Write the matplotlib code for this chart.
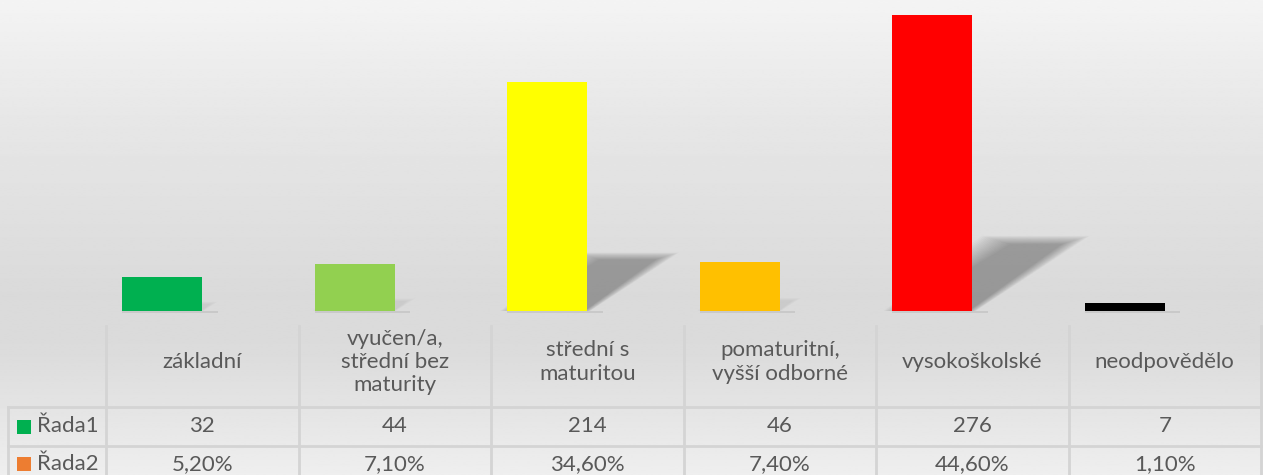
import numpy as np
import matplotlib.pyplot as plt
from matplotlib.patches import Polygon, Rectangle

plt.rcParams['font.family'] = ['Lato', 'DejaVu Sans']

categories = ["základní", "vyučen/a,\nstřední bez\nmaturity", "střední s\nmaturitou",
              "pomaturitní,\nvyšší odborné", "vysokoškolské", "neodpovědělo"]
rada1 = [32, 44, 214, 46, 276, 7]
rada2 = [0.052, 0.071, 0.346, 0.074, 0.446, 0.011]
rada1_labels = ["32", "44", "214", "46", "276", "7"]
rada2_labels = ["5,20%", "7,10%", "34,60%", "7,40%", "44,60%", "1,10%"]
bar_colors = ["#00B050", "#92D050", "#FFFF00", "#FFC000", "#FF0000", "#000000"]
series_names = ["Řada1", "Řada2"]
series_colors = ["#00B050", "#ED7D31"]

W, H = 1263, 475
fig = plt.figure(figsize=(W / 100, H / 100), dpi=100)

# background gradient (whole chart area)
bg = fig.add_axes([0, 0, 1, 1], zorder=0)
yy = np.linspace(0, 1, 300)
stops_y = [0.0, 0.25, 0.62, 0.74, 1.0]
stops_v = [0.955, 0.905, 0.855, 0.86, 0.935]
grad = np.interp(yy, stops_y, stops_v)
bg.imshow(np.tile(grad[:, None], (1, 2)), cmap='gray', vmin=0, vmax=1,
          aspect='auto', extent=[0, 1, 0, 1], interpolation='bilinear')
bg.set_axis_off()

# plot area
left_px, right_px, base_px = 106, 1261, 311
ax = fig.add_axes([left_px / W, (H - base_px) / H, (right_px - left_px) / W, base_px / H], zorder=2)
ax.patch.set_alpha(0)
ax.set_xlim(-0.5, 5.5)
ax.set_ylim(0, 290)
ax.set_axis_off()

x = np.arange(len(categories))
bw = 80 / 192.5
ax.bar(x - bw / 2, rada1, width=bw, color=bar_colors, zorder=3)
ax.bar(x + bw / 2, rada2, width=bw, color=series_colors[1], zorder=3)

# soft perspective shadows behind the bars
for xi, v in zip(x, rada1):
    x0, x1 = xi - bw, xi
    h = 0.24 * v
    dx = 0.00195 * v
    ax.plot([x0, x1 + 0.08], [-1.3, -1.3], color='#bdbdbd', lw=1.4, alpha=0.6,
            clip_on=False, zorder=2, solid_capstyle='butt')
    strength = min(1.0, v / 180)
    n = 16
    for k in range(n):
        t = (k - (n - 1) / 2) / ((n - 1) / 2)
        s = t * 0.035 * (0.3 + v / 276)
        sy = t * 3.0 * (0.3 + v / 276)
        poly = Polygon([(x0 + s, 0), (x1 - s * 0.4, 0), (x1 + dx - s * 1.6, h - sy),
                        (x0 + dx + s * 1.6, h - sy)], closed=True,
                       facecolor='black', edgecolor='none', alpha=0.018 * strength,
                       zorder=2)
        ax.add_patch(poly)

# data table
tab = fig.add_axes([0, 0, 1, 1], zorder=1)
tab.patch.set_alpha(0)
tab.set_xlim(0, W)
tab.set_ylim(H, 0)
tab.set_axis_off()

line_c = '#d4d4d4'
col_w = (right_px - left_px) / len(categories)
edges = [left_px + i * col_w for i in range(len(categories) + 1)]
row_top, row1, row2, row3 = 326, 407, 446, 486
txt_c = '#595959'
fs = 16

for e in edges:
    tab.plot([e, e], [row_top, row3], color=line_c, lw=2, clip_on=False)
tab.plot([8, 8], [row1, row3], color=line_c, lw=2, clip_on=False)
for ry in [row1, row2]:
    tab.plot([8, edges[-1]], [ry, ry], color=line_c, lw=2)

for i, cat in enumerate(categories):
    cx = edges[i] + col_w / 2
    tab.text(cx, 362, cat, ha='center', va='center', color=txt_c, fontsize=fs,
             linespacing=1.2)
    tab.text(cx, (row1 + row2) / 2, rada1_labels[i], ha='center', va='center',
             color=txt_c, fontsize=fs)
    tab.text(cx, (row2 + row3) / 2 - 2, rada2_labels[i], ha='center', va='center',
             color=txt_c, fontsize=fs)

for j, (name, c) in enumerate(zip(series_names, series_colors)):
    cy = [(row1 + row2) / 2, (row2 + row3) / 2 - 2][j]
    tab.add_patch(Rectangle((17, cy - 7), 14, 14, facecolor=c, edgecolor='none'))
    tab.text(37, cy, name, ha='left', va='center', color=txt_c, fontsize=fs)

fig.savefig("out.png", dpi=100)
